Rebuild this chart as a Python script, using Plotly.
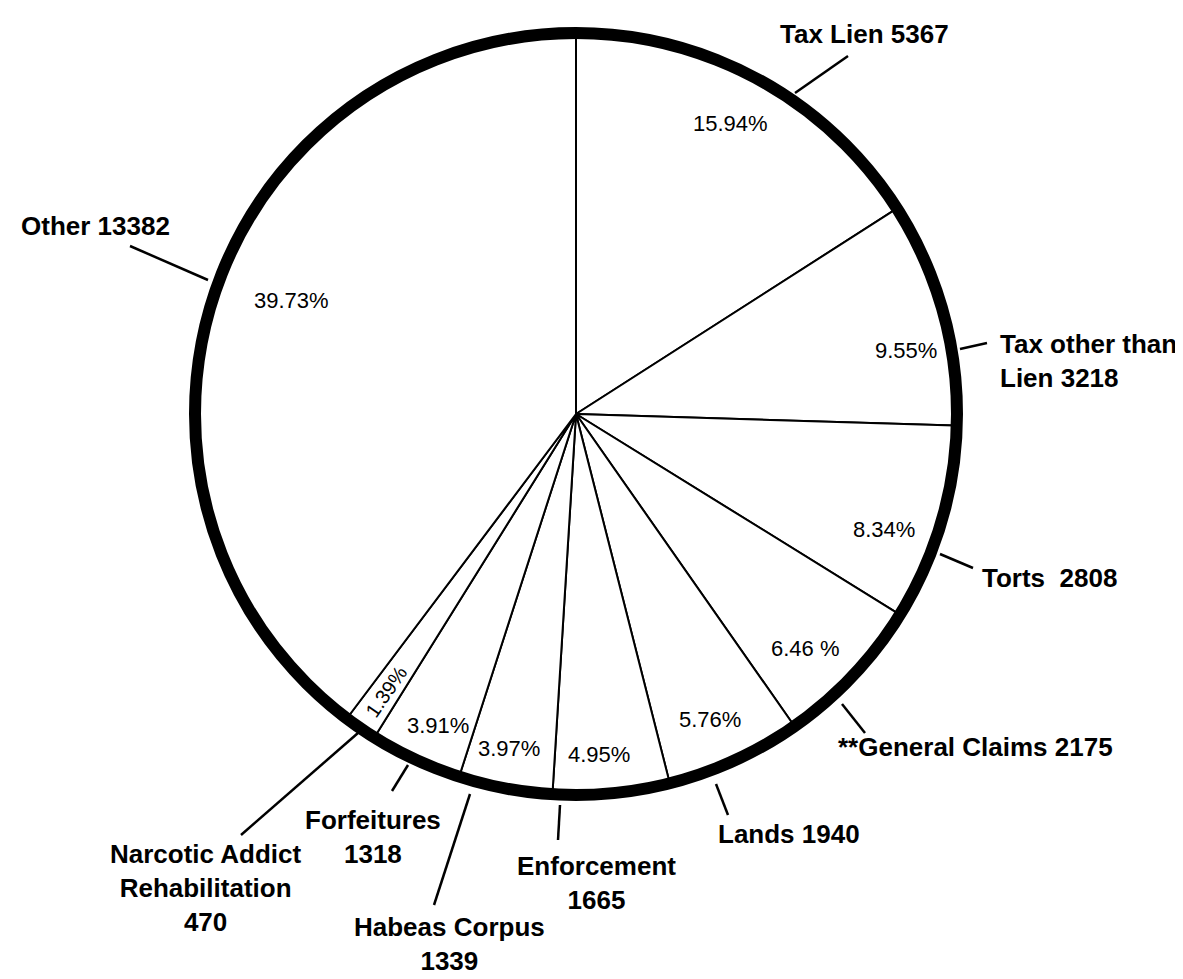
import math
import plotly.graph_objects as go

# ---------------- data ----------------
categories = ["Tax Lien", "Tax other than Lien", "Torts", "**General Claims", "Lands",
              "Enforcement", "Habeas Corpus", "Forfeitures",
              "Narcotic Addict Rehabilitation", "Other"]
counts = [5367, 3218, 2808, 2175, 1940, 1665, 1339, 1318, 470, 13382]
pct_labels = ["15.94%", "9.55%", "8.34%", "6.46 %", "5.76%", "4.95%", "3.97%", "3.91%", "1.39%", "39.73%"]
name_labels = ["Tax Lien 5367", "Tax other than<br>Lien 3218", "Torts  2808",
               "**General Claims 2175", "Lands 1940", "Enforcement<br>1665",
               "Habeas Corpus<br>1339", "Forfeitures<br>1318",
               "Narcotic Addict<br>Rehabilitation<br>470", "Other 13382"]

# ---------------- layout constants (pixels) ----------------
W, H = 1183, 979
CX, CY = 568, 406          # pie centre
R_PIE = 378                # pie radius
R_RING = 381               # centre line of thick outer ring
RING_W = 12

# percentage label positions, rotation and size
pct_pos = [(722, 115), (898, 342), (876, 521), (797, 640), (702, 711),
           (591, 746), (501, 740), (430, 717), (378, 684), (283, 292)]
pct_rot = [0, 0, 0, 0, 0, 0, 0, 0, -55.5, 0]
pct_size = [22, 22, 22, 22, 22, 22, 22, 22, 20, 22]

# name label positions: (x, y, xanchor)
name_pos = [(856, 26, "center"), (990, 353, "left"), (972, 570, "left"),
            (828, 739, "left"), (708, 826, "left"), (588, 875, "center"),
            (441, 936, "center"), (365, 829, "center"), (198, 880, "center"),
            (87, 218, "center")]

# leader lines (x0, y0, x1, y1)
leaders = [(787, 85, 840, 48), (952, 341, 979, 335), (932, 546, 965, 560),
           (834, 696, 857, 725), (708, 776, 720, 807), (552, 797, 550, 832),
           (462, 786, 426, 897), (400, 757, 384, 783), (350, 725, 233, 827),
           (200, 272, 122, 238)]


def px(x):
    return x / W


def py(y):
    return 1 - y / H


fig = go.Figure()
fig.add_trace(go.Pie(
    labels=categories,
    values=counts,
    sort=False,
    direction="clockwise",
    rotation=0,
    textinfo="none",
    hoverinfo="label+value",
    marker=dict(colors=["white"] * len(counts), line=dict(color="black", width=2)),
    domain=dict(x=[px(CX - R_PIE), px(CX + R_PIE)], y=[py(CY + R_PIE), py(CY - R_PIE)]),
    showlegend=False,
))

shapes = [dict(type="circle", xref="paper", yref="paper",
               x0=px(CX - R_RING), x1=px(CX + R_RING),
               y0=py(CY + R_RING), y1=py(CY - R_RING),
               line=dict(color="black", width=RING_W), layer="above")]
for (x0, y0, x1, y1) in leaders:
    shapes.append(dict(type="line", xref="paper", yref="paper",
                       x0=px(x0), y0=py(y0), x1=px(x1), y1=py(y1),
                       line=dict(color="black", width=2.5)))

annotations = []
for txt, (x, y), rot, sz in zip(pct_labels, pct_pos, pct_rot, pct_size):
    annotations.append(dict(text=txt, x=px(x), y=py(y), xref="paper", yref="paper",
                            showarrow=False, textangle=rot, xanchor="center", yanchor="middle",
                            font=dict(family="Liberation Sans, Arial, sans-serif", size=sz, color="black")))
for txt, (x, y, xa) in zip(name_labels, name_pos):
    annotations.append(dict(text="<b>" + txt + "</b>", x=px(x), y=py(y), xref="paper", yref="paper",
                            showarrow=False, xanchor=xa, yanchor="middle",
                            align="left" if xa == "left" else "center",
                            font=dict(family="Liberation Sans, Arial, sans-serif",
                                      size=26, color="black")))

fig.update_layout(
    width=W, height=H,
    margin=dict(l=0, r=0, t=0, b=0),
    paper_bgcolor="white", plot_bgcolor="white",
    shapes=shapes, annotations=annotations,
)
fig.write_html("out.html")
